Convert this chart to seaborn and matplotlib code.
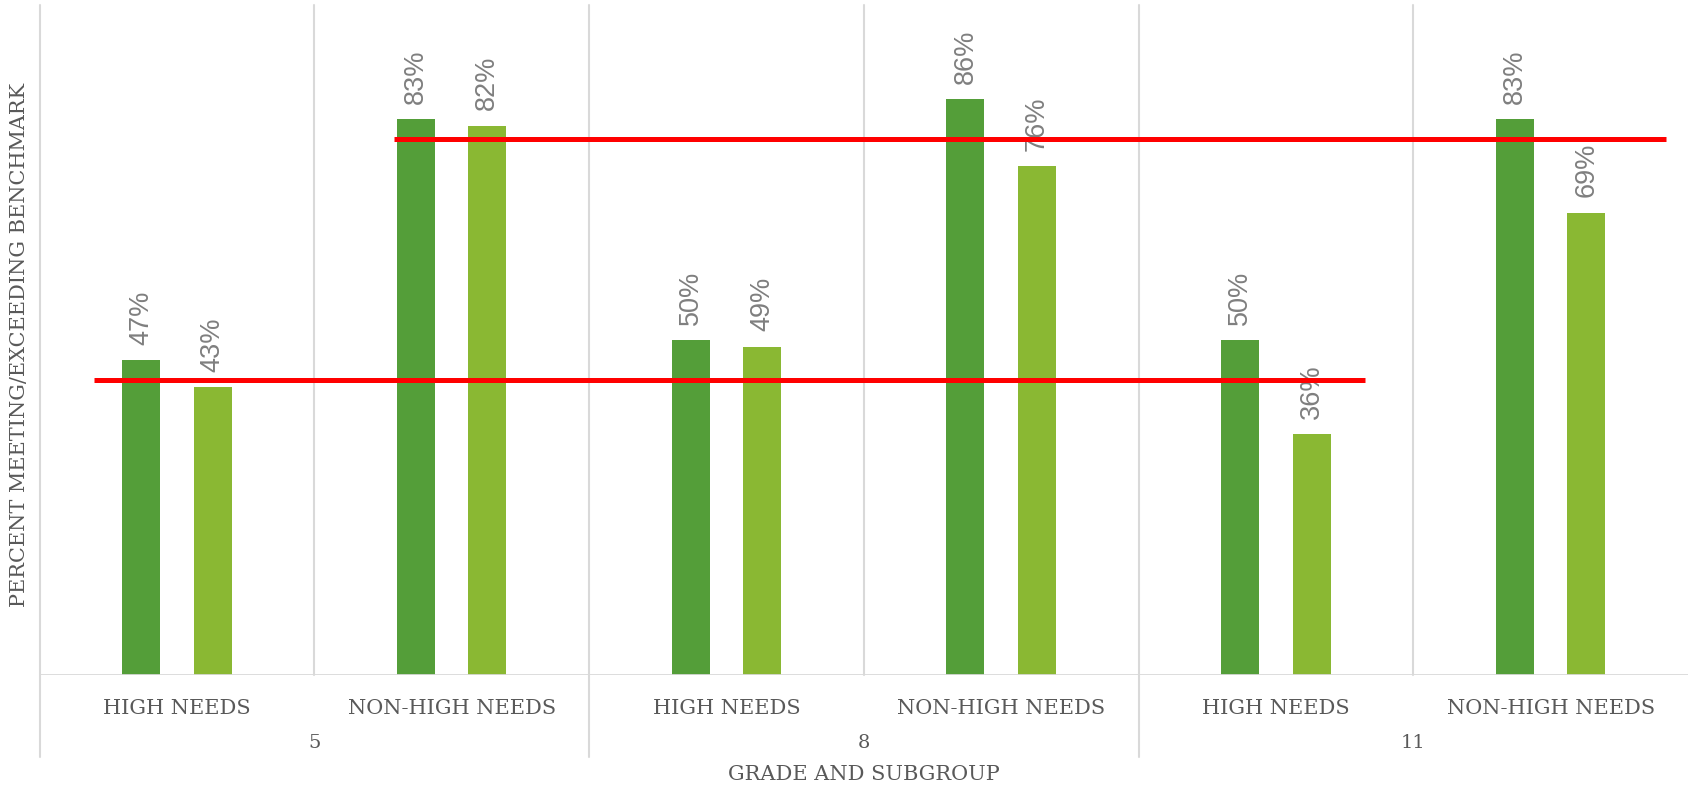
import matplotlib
matplotlib.use("Agg")
import matplotlib.pyplot as plt
import matplotlib.transforms as mtransforms
import pandas as pd
import seaborn as sns

# ---- data -------------------------------------------------------------
grades = ["5", "8", "11"]
subgroups = ["HIGH NEEDS", "NON-HIGH NEEDS"]
series_names = ["Series 1", "Series 2"]
series_1 = [47, 83, 50, 86, 50, 83]
series_2 = [43, 82, 49, 76, 36, 69]
benchmarks = [44, 80]  # high needs, non-high needs

# ---- styling ----------------------------------------------------------
sns.set_style("white")
plt.rcParams["font.family"] = ["DejaVu Serif"]

DARK_GREEN = "#549E39"
LIGHT_GREEN = "#8AB833"
GRID = "#D9D9D9"
TEXT = "#595959"
LABEL = "#7F7F7F"

keys = [f"{g} {s}" for g in grades for s in subgroups]
df = pd.DataFrame({
    "key": keys * 2,
    "value": series_1 + series_2,
    "series": [series_names[0]] * len(keys) + [series_names[1]] * len(keys),
})

W, H = 1688, 787
fig = plt.figure(figsize=(W / 100, H / 100), dpi=100)
ax = fig.add_axes([39.5 / W, 112 / H, (W - 39.5) / W, 670 / H])

sns.barplot(
    data=df, x="key", y="value", hue="series", order=keys,
    hue_order=series_names, palette=[DARK_GREEN, LIGHT_GREEN],
    width=0.52, gap=0.47, legend=False, ax=ax, saturation=1,
    edgecolor="none", zorder=2,
)

ax.set_xlim(-0.5, len(keys) - 0.5)
ax.set_ylim(0, 100)
for s in ax.spines.values():
    s.set_visible(False)
ax.set_yticks([])
ax.set_xticks(range(len(keys)))
ax.set_xticklabels([k.split(" ", 1)[1] for k in keys], fontsize=15, color=TEXT)
ax.tick_params(axis="x", length=0, pad=17)
ax.set_xlabel("")
ax.set_ylabel("")

# value labels
for cont in ax.containers:
    ax.bar_label(cont, labels=[f"{v:.0f}%" for v in cont.datavalues],
                 rotation=90, padding=11, color=LABEL, fontsize=19.5,
                 family="Liberation Sans")

# category grid + multi-level axis separators
trans = mtransforms.blended_transform_factory(ax.transData, ax.transAxes)
for i in range(len(keys)):
    xb = i - 0.5
    bottom = -0.1224 if i % 2 == 0 else 0.0
    ax.plot([xb, xb], [bottom, 1.0], color=GRID, lw=1.5, transform=trans,
            clip_on=False, zorder=1)
ax.axhline(0, color=GRID, lw=2, zorder=3)

# grade labels
for j, g in enumerate(grades):
    ax.text(2 * j + 0.5, -0.1015, g, transform=trans, ha="center",
            va="center", fontsize=14, color=TEXT)

# benchmark lines
ax.hlines(benchmarks[0], -0.30, 4.325, color="#FF0000", lw=3.6, zorder=5)
ax.hlines(benchmarks[1], 0.79, 5.42, color="#FF0000", lw=3.6, zorder=5)

# axis titles
ax.text(0.5, -0.149, "GRADE AND SUBGROUP", transform=ax.transAxes,
        ha="center", va="center", fontsize=15, color=TEXT)
fig.text(20 / W, 1 - 345 / H, "PERCENT MEETING/EXCEEDING BENCHMARK",
         rotation=90, ha="center", va="center", fontsize=15, color=TEXT)

fig.savefig("out.png", dpi=100)
